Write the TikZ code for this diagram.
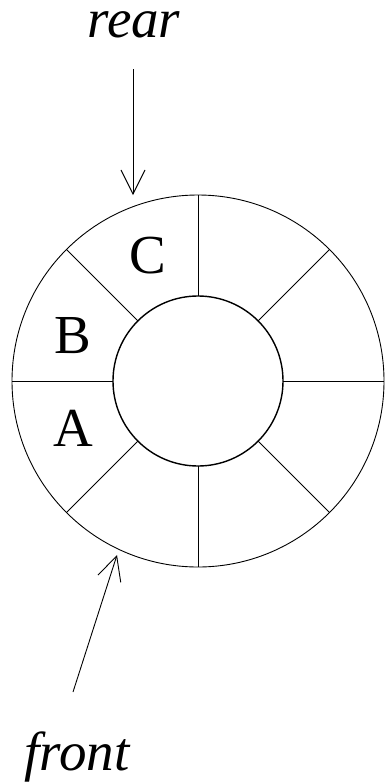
\documentclass[tikz,border=0pt]{standalone}
\usepackage{fontspec}
\setmainfont{Liberation Serif}
\usetikzlibrary{arrows.meta}

\begin{document}
\begin{tikzpicture}[x=1pt,y=-1pt,
  ptr/.style={-{Straight Barb[length=24pt,width=24pt]},line width=0.9pt},
  lbl/.style={font=\fontsize{55}{60}\selectfont,inner sep=0pt,anchor=base}]
  \useasboundingbox (0,0) rectangle (386,782);
  \coordinate (O) at (198,381);
  \draw[line width=0.9pt] (O) circle (186);
  \draw[line width=1.4pt] (O) circle (85);
  \foreach \a in {0,45,...,315}
    \draw[line width=0.9pt,shift={(O)}] (\a:85) -- (\a:186);
  \node[lbl] (c) at (148,273) {C};
  \node[lbl] (b) at (73,353) {B};
  \node[lbl] (a) at (73,446) {A};
  \node[lbl] (rear) at (134,37) {\itshape rear};
  \node[lbl] (front) at (77,770) {\itshape front};
  \coordinate (reartail) at (133,69);
  \coordinate (reartip) at (133,195);
  \coordinate (fronttail) at (73,692);
  \coordinate (fronttip) at (117,555);
  \draw[ptr] (reartail) -- (reartip);
  \draw[ptr] (fronttail) -- (fronttip);
\end{tikzpicture}
\end{document}
